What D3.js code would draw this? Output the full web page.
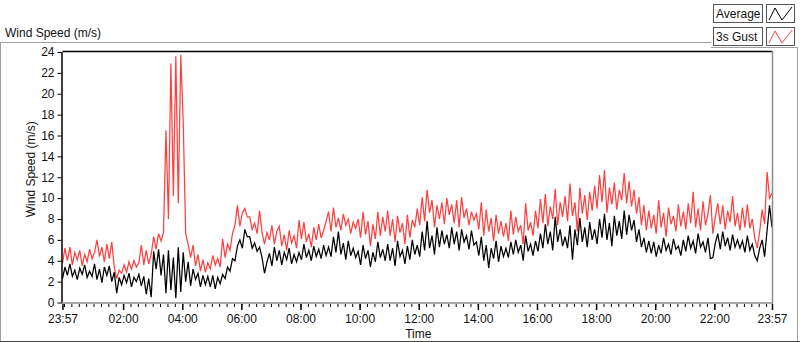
<!DOCTYPE html>
<html>
<head>
<meta charset="utf-8">
<script src="https://cdn.jsdelivr.net/npm/d3@7"></script>
<style>
  body { margin: 0; background: #fff; }
  svg { display: block; font-family: 'Liberation Sans', Arial, sans-serif; }
</style>
</head>
<body>
<svg width="800" height="342"></svg>
<script>
const svg = d3.select('svg');

const width = +svg.attr('width');
const height = +svg.attr('height');

// one sample every 5 minutes, 23:57 -> 23:57 next day (hour by hour)
const avgSpeed = [
  2.3, 3.4, 2.6, 3.7, 2.5, 3.1, 2.2, 3.3, 2.7, 3.6, 2.4, 3.0,
  2.5, 3.7, 2.2, 3.2, 1.9, 3.4, 2.6, 3.5, 2.0, 2.9, 0.9, 2.4,
  1.7, 2.6, 1.9, 2.8, 1.5, 2.4, 2.0, 2.7, 1.6, 2.5, 0.8, 2.3,
  0.5, 4.9, 3.2, 5.1, 2.6, 4.6, 0.9, 5.0, 1.2, 4.3, 0.4, 5.3,
  1.0, 4.8, 2.0, 3.9, 1.6, 3.2, 2.2, 2.8, 1.5, 2.6, 1.7, 2.5,
  1.5, 2.6, 1.3, 2.4, 1.8, 2.7, 2.3, 3.4, 3.0, 4.2, 4.0, 5.4,
  6.0, 5.2, 7.0, 6.3, 6.3, 5.2, 5.7, 4.9, 5.3, 4.3, 2.8, 3.9,
  4.7, 3.5, 5.3, 4.0, 5.0, 3.6, 4.8, 4.1, 5.2, 3.7, 4.6, 3.9,
  4.8, 4.1, 5.6, 4.3, 5.0, 4.0, 5.4, 4.4, 5.1, 4.2, 5.5, 4.5,
  5.3, 4.4, 6.3, 4.8, 6.8, 4.6, 5.7, 4.1, 5.9, 4.5, 5.2, 4.3,
  4.9, 3.6, 5.5, 4.2, 5.0, 3.4, 4.8, 3.9, 5.8, 4.3, 5.1, 4.0,
  5.6, 4.0, 5.2, 3.5, 5.9, 4.4, 5.0, 3.7, 5.4, 4.1, 6.0, 4.6,
  5.5, 4.4, 6.8, 5.0, 7.8, 5.2, 6.4, 4.6, 7.2, 5.3, 6.9, 5.6,
  6.5, 5.2, 7.2, 5.6, 6.8, 5.0, 7.0, 5.8, 6.4, 5.1, 6.9, 5.5,
  5.8, 4.5, 6.3, 4.0, 5.5, 3.3, 5.2, 4.2, 5.9, 3.9, 5.4, 4.4,
  5.2, 4.3, 5.8, 4.6, 6.0, 4.8, 5.5, 4.0, 6.4, 4.9, 5.6, 4.5,
  5.9, 4.9, 6.6, 5.2, 7.5, 5.6, 6.8, 5.0, 8.2, 5.8, 7.0, 5.4,
  6.3, 5.2, 7.4, 4.1, 7.0, 5.5, 8.1, 5.8, 7.2, 5.3, 7.7, 6.0,
  7.0, 5.6, 8.0, 6.2, 8.5, 6.0, 7.6, 5.4, 8.3, 6.4, 7.8, 6.1,
  8.8, 6.5, 8.4, 6.9, 7.9, 5.8, 7.0, 5.3, 6.2, 4.8, 5.9, 4.7,
  5.8, 4.4, 5.5, 4.7, 6.2, 5.0, 5.6, 4.6, 6.1, 5.1, 5.4, 4.5,
  6.0, 4.9, 6.4, 5.2, 5.9, 4.7, 6.6, 5.3, 5.8, 4.8, 6.2, 4.2,
  4.3, 5.7, 6.6, 5.1, 6.8, 5.4, 6.2, 5.0, 6.5, 5.3, 6.0, 5.2,
  5.9, 4.8, 6.4, 5.0, 5.6, 4.5, 4.0, 5.2, 6.0, 4.4, 6.9, 9.3, 7.2
];

const gustSpeed = [
  3.8, 5.2, 4.0, 5.3, 3.6, 4.8, 4.1, 5.0, 3.5, 4.6, 3.9, 5.1,
  4.2, 4.8, 6.0, 4.4, 5.3, 3.9, 5.6, 4.2, 5.8, 3.4, 2.3, 3.1,
  2.8, 3.6, 2.9, 3.9, 3.2, 4.0, 3.4, 3.8, 5.5, 3.6, 5.0, 3.7,
  4.6, 6.3, 5.1, 6.6, 5.9, 6.7, 16.5, 8.0, 22.9, 10.2, 23.6, 9.5,
  23.7, 17.3, 6.6, 5.6, 4.3, 5.5, 3.5, 4.6, 3.0, 4.1, 2.9, 3.8,
  3.2, 4.5, 3.6, 4.2, 3.4, 6.1, 4.3, 5.6, 5.0, 6.6, 7.4, 9.3,
  7.3, 8.6, 9.0, 8.2, 8.2, 7.0, 7.6, 6.6, 8.8, 6.7, 5.6, 6.7,
  6.0, 7.4, 5.6, 6.8, 7.3, 5.4, 6.5, 5.0, 6.9, 5.7, 6.4, 5.2,
  7.9, 6.1, 7.7, 5.8, 6.6, 5.3, 7.2, 6.0, 7.5, 6.2, 6.9, 7.8,
  8.7, 6.8, 9.1, 7.2, 8.1, 6.9, 8.5, 7.4, 8.0, 6.6, 7.7, 7.1,
  8.0, 6.2, 8.7, 6.5, 7.8, 5.4, 7.5, 6.1, 8.7, 6.4, 8.2, 6.8,
  8.8, 6.4, 8.0, 5.8, 8.3, 6.7, 7.6, 5.6, 8.4, 6.2, 7.9, 7.2,
  9.0, 7.4, 10.1, 7.8, 10.8, 8.6, 9.8, 7.2, 9.3, 8.0, 9.6, 7.5,
  10.0, 8.4, 9.4, 7.6, 9.8, 7.2, 10.1, 8.1, 9.0, 7.4, 8.7, 7.9,
  8.5, 7.0, 9.6, 6.4, 8.9, 6.8, 8.1, 5.9, 8.4, 6.6, 7.8, 6.3,
  7.6, 5.9, 8.8, 6.5, 8.2, 6.8, 7.4, 5.6, 9.5, 6.9, 7.7, 6.4,
  8.8, 7.1, 9.9, 7.6, 10.4, 7.3, 9.2, 8.0, 10.9, 7.4, 9.6, 8.2,
  10.2, 7.8, 11.4, 8.3, 9.6, 6.8, 11.0, 8.5, 10.3, 7.9, 10.6, 8.8,
  11.2, 9.0, 12.2, 9.6, 12.7, 8.6, 11.0, 9.4, 11.5, 8.9, 10.8, 9.8,
  12.4, 9.5, 11.6, 9.2, 10.8, 8.5, 10.1, 7.4, 9.3, 6.9, 8.8, 7.1,
  8.4, 6.6, 9.8, 7.2, 8.6, 6.3, 9.1, 7.5, 8.3, 6.8, 9.4, 7.3,
  8.7, 7.0, 9.5, 7.6, 10.6, 7.2, 9.0, 6.9, 9.7, 7.4, 8.5, 10.3,
  6.6, 8.2, 9.5, 7.5, 9.3, 7.0, 8.8, 7.7, 10.2, 7.3, 8.6, 6.9,
  9.1, 7.2, 9.4, 7.1, 8.0, 6.2, 5.2, 6.8, 8.9, 7.5, 12.5, 10.0, 10.5
];

const startTime = new Date(2020, 0, 1, 23, 57);
const stepMinutes = 5;
const yTicks = [0, 2, 4, 6, 8, 10, 12, 14, 16, 18, 20, 22, 24];
const majorHours = [2, 4, 6, 8, 10, 12, 14, 16, 18, 20, 22];
const legendItems = [
  { label: 'Average', color: '#000000' },
  { label: '3s Gust', color: '#ff4040' }
];

const endTime = d3.timeMinute.offset(startTime, 24 * 60);
const timeOf = i => d3.timeMinute.offset(startTime, i * stepMinutes);

const plot = { left: 62.5, right: 772, top: 52, bottom: 302.5 };

const xScale = d3.scaleTime()
  .domain([startTime, endTime])
  .range([plot.left, plot.right]);

const yScale = d3.scaleLinear()
  .domain([0, 24])
  .range([plot.bottom, plot.top]);

const frame = '#a0a0a0';

// outer frame and top label
svg.append('line').attr('x1', 0).attr('x2', 711).attr('y1', 42.5).attr('y2', 42.5).attr('stroke', frame);
svg.append('line').attr('x1', 0.5).attr('x2', 0.5).attr('y1', 42).attr('y2', height).attr('stroke', frame);
svg.append('line').attr('x1', 797.5).attr('x2', 797.5).attr('y1', 47).attr('y2', height).attr('stroke', frame);
svg.append('line').attr('x1', 711).attr('x2', 798).attr('y1', 47.5).attr('y2', 47.5).attr('stroke', frame);
svg.append('line').attr('x1', 0).attr('x2', width).attr('y1', 341.5).attr('y2', 341.5).attr('stroke', '#444');

svg.append('text')
  .attr('x', 5).attr('y', 37)
  .attr('font-size', 12)
  .attr('fill', '#111')
  .text('Wind Speed (m/s)');

// legend
const legend = svg.append('g');
legendItems.forEach((d, i) => {
  const y0 = 4 + i * 23;
  legend.append('rect')
    .attr('x', 713.5).attr('y', y0 + 0.5)
    .attr('width', 49).attr('height', 18)
    .attr('fill', '#fff').attr('stroke', '#555');
  legend.append('text')
    .attr('x', 716).attr('y', y0 + 14)
    .attr('font-size', 12).attr('fill', '#111')
    .text(d.label);
  legend.append('rect')
    .attr('x', 766.5).attr('y', y0 + 0.5)
    .attr('width', 28).attr('height', 18)
    .attr('fill', '#fff').attr('stroke', '#555');
  legend.append('polyline')
    .attr('points', [[769, y0 + 16], [775, y0 + 4], [782, y0 + 16], [792, y0 + 3]].join(' '))
    .attr('fill', 'none').attr('stroke', d.color);
});

// plot area
svg.append('rect')
  .attr('x', plot.left).attr('y', plot.top)
  .attr('width', plot.right - plot.left).attr('height', plot.bottom - plot.top)
  .attr('fill', '#fff');

const lineOf = values => d3.line()
  .x((d, i) => xScale(timeOf(i)))
  .y(d => yScale(d))(values);

const g = svg.append('g');
g.append('path')
  .attr('d', lineOf(gustSpeed))
  .attr('fill', 'none').attr('stroke', '#ff4040').attr('stroke-width', 1.25);
g.append('path')
  .attr('d', lineOf(avgSpeed))
  .attr('fill', 'none').attr('stroke', '#000').attr('stroke-width', 1.25);

// plot borders: dark top/left, grey bottom/right
svg.append('line').attr('x1', plot.left).attr('x2', plot.right).attr('y1', plot.top - 0.5).attr('y2', plot.top - 0.5).attr('stroke', '#000').attr('stroke-width', 1.5);
svg.append('line').attr('x1', plot.left - 0.5).attr('x2', plot.left - 0.5).attr('y1', plot.top).attr('y2', plot.bottom + 1).attr('stroke', '#000').attr('stroke-width', 1.5);
svg.append('line').attr('x1', plot.right + 0.5).attr('x2', plot.right + 0.5).attr('y1', plot.top - 1).attr('y2', plot.bottom + 1).attr('stroke', '#8c8c8c').attr('stroke-width', 1.5);
svg.append('line').attr('x1', plot.left - 1).attr('x2', plot.right + 1).attr('y1', plot.bottom + 0.5).attr('y2', plot.bottom + 0.5).attr('stroke', '#8c8c8c').attr('stroke-width', 1.5);

// y axis
const yAxis = d3.axisLeft(yScale).tickValues(yTicks).tickSize(4).tickPadding(3);
svg.append('g')
  .attr('transform', `translate(${plot.left - 1},0)`)
  .call(yAxis)
  .call(a => a.select('.domain').remove())
  .call(a => a.selectAll('text').attr('font-size', 12).attr('fill', '#111').attr('font-family', null))
  .call(a => a.selectAll('line').attr('stroke', '#000'));

svg.append('text')
  .attr('transform', `translate(35,${(plot.top + plot.bottom) / 2 - 8}) rotate(-90)`)
  .attr('text-anchor', 'middle')
  .attr('font-size', 12).attr('fill', '#111')
  .text('Wind Speed (m/s)');

// x axis
const majorTicks = [startTime]
  .concat(majorHours.map(h => new Date(2020, 0, 2, h, 0)))
  .concat([endTime]);
const minorTicks = d3.timeMinute.every(15).range(d3.timeMinute.offset(startTime, 1), endTime);

svg.append('g')
  .attr('transform', `translate(0,${plot.bottom + 1.5})`)
  .call(d3.axisBottom(xScale).tickValues(minorTicks).tickSize(3).tickFormat(''))
  .call(a => a.select('.domain').remove())
  .call(a => a.selectAll('line').attr('stroke', '#000'));

svg.append('g')
  .attr('transform', `translate(0,${plot.bottom + 1.5})`)
  .call(d3.axisBottom(xScale).tickValues(majorTicks).tickSize(6).tickPadding(4)
    .tickFormat(d3.timeFormat('%H:%M')))
  .call(a => a.select('.domain').remove())
  .call(a => a.selectAll('text').attr('font-size', 12).attr('fill', '#111').attr('font-family', null))
  .call(a => a.selectAll('line').attr('stroke', '#000').attr('stroke-width', 1.5));

svg.append('text')
  .attr('x', (plot.left + plot.right) / 2 + 1).attr('y', 338)
  .attr('text-anchor', 'middle')
  .attr('font-size', 12).attr('fill', '#111')
  .text('Time');
</script>
</body>
</html>
